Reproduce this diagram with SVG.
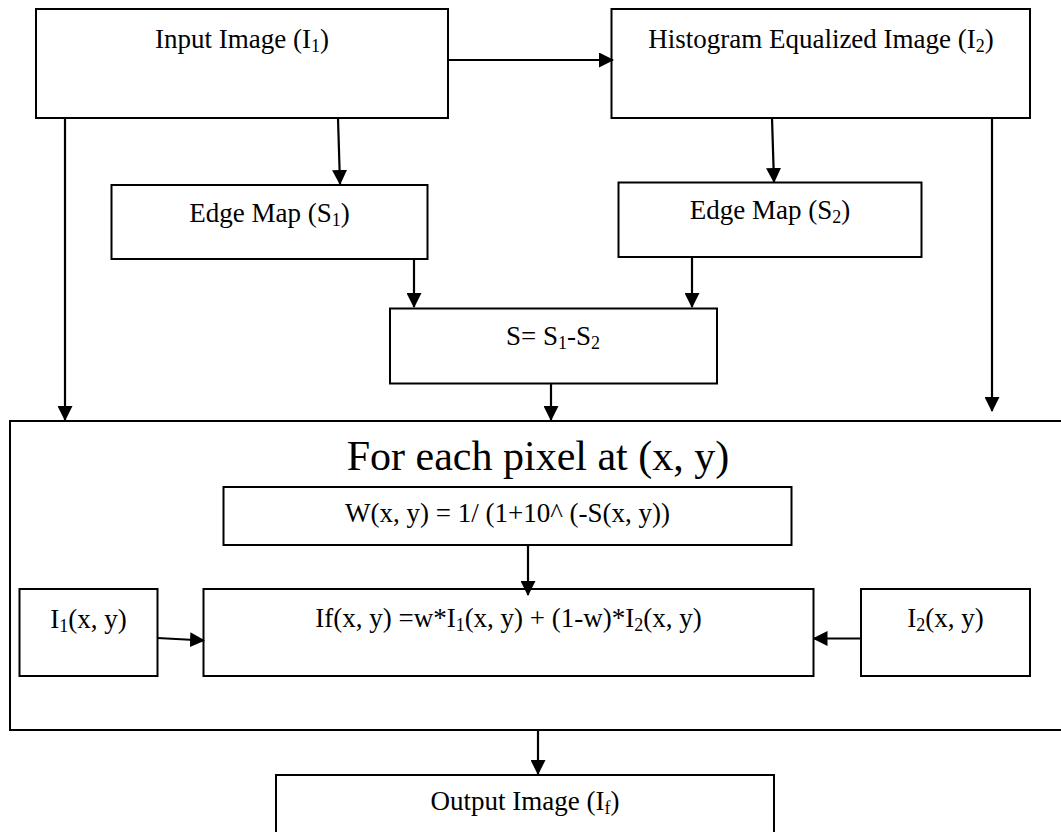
<svg xmlns="http://www.w3.org/2000/svg" width="1061" height="832" viewBox="0 0 1061 832">
  <style>
    .box { fill: #ffffff; stroke: #000000; stroke-width: 2; }
    .lbl { font-family: "Liberation Serif", "Times New Roman", serif; font-size: 27px; fill: #000000; text-anchor: middle; }
    .title { font-family: "Liberation Serif", "Times New Roman", serif; font-size: 42px; fill: #000000; text-anchor: middle; }
    .sub { font-size: 18px; }
    .conn { fill: none; stroke: #000000; stroke-width: 2.2; marker-end: url(#arrow); }
  </style>
  <defs>
    <marker id="arrow" markerUnits="userSpaceOnUse" viewBox="0 0 15 15" markerWidth="15" markerHeight="15" refX="14" refY="7.5" orient="auto">
      <path d="M0,0 L15,7.5 L0,15 z" fill="#000000"/>
    </marker>
  </defs>
  <rect width="1061" height="832" fill="#ffffff"/>

  <g id="node-loop">
    <rect class="box" x="10" y="421" width="1070" height="309"/>
    <text class="title" x="538" y="470">For each pixel at (x, y)</text>
  </g>

  <g id="node-input">
    <rect class="box" x="36" y="9" width="412" height="109"/>
    <text class="lbl" x="242" y="48">Input Image (I<tspan class="sub" dy="4">1</tspan><tspan dy="-4">)</tspan></text>
  </g>

  <g id="node-histeq">
    <rect class="box" x="611.5" y="9" width="418.5" height="109"/>
    <text class="lbl" x="821" y="48">Histogram Equalized Image (I<tspan class="sub" dy="4">2</tspan><tspan dy="-4">)</tspan></text>
  </g>

  <g id="node-edge1">
    <rect class="box" x="111.5" y="185" width="316" height="74"/>
    <text class="lbl" x="269.5" y="222">Edge Map (S<tspan class="sub" dy="4">1</tspan><tspan dy="-4">)</tspan></text>
  </g>

  <g id="node-edge2">
    <rect class="box" x="618.5" y="182.5" width="303" height="74.5"/>
    <text class="lbl" x="770" y="219">Edge Map (S<tspan class="sub" dy="4">2</tspan><tspan dy="-4">)</tspan></text>
  </g>

  <g id="node-diff">
    <rect class="box" x="390" y="308.5" width="327" height="75"/>
    <text class="lbl" x="553" y="345">S= S<tspan class="sub" dy="4">1</tspan><tspan dy="-4">-S</tspan><tspan class="sub" dy="4">2</tspan></text>
  </g>

  <g id="node-weight">
    <rect class="box" x="223.5" y="487" width="568" height="58"/>
    <text class="lbl" x="507.5" y="522">W(x, y) = 1/ (1+10^ (-S(x, y))</text>
  </g>

  <g id="node-fuse">
    <rect class="box" x="203.5" y="589" width="610" height="87"/>
    <text class="lbl" x="508.5" y="627">If(x, y) =w*I<tspan class="sub" dy="4">1</tspan><tspan dy="-4">(x, y) + (1-w)*I</tspan><tspan class="sub" dy="4">2</tspan><tspan dy="-4">(x, y)</tspan></text>
  </g>

  <g id="node-i1">
    <rect class="box" x="19.5" y="589" width="138" height="87"/>
    <text class="lbl" x="88.5" y="628">I<tspan class="sub" dy="4">1</tspan><tspan dy="-4">(x, y)</tspan></text>
  </g>

  <g id="node-i2">
    <rect class="box" x="861" y="589" width="169" height="87"/>
    <text class="lbl" x="945.5" y="627">I<tspan class="sub" dy="4">2</tspan><tspan dy="-4">(x, y)</tspan></text>
  </g>

  <g id="node-output">
    <rect class="box" x="276" y="775" width="498" height="90"/>
    <text class="lbl" x="525" y="810">Output Image (I<tspan class="sub" dy="4">f</tspan><tspan dy="-4">)</tspan></text>
  </g>

  <g id="connectors">
    <line class="conn" x1="448" y1="60" x2="613" y2="60"/>
    <line class="conn" x1="338" y1="118" x2="340" y2="184"/>
    <line class="conn" x1="772" y1="118" x2="774" y2="182"/>
    <line class="conn" x1="65" y1="118" x2="65" y2="420"/>
    <line class="conn" x1="992" y1="118" x2="992" y2="411"/>
    <line class="conn" x1="414" y1="259" x2="414" y2="307"/>
    <line class="conn" x1="692" y1="257" x2="692" y2="307"/>
    <line class="conn" x1="551" y1="383.5" x2="551" y2="420"/>
    <line class="conn" x1="528" y1="545" x2="528" y2="595"/>
    <line class="conn" x1="157.5" y1="638" x2="204" y2="640.5"/>
    <line class="conn" x1="861" y1="638.5" x2="813.5" y2="638.5"/>
    <line class="conn" x1="538" y1="730" x2="538" y2="774"/>
  </g>
</svg>
